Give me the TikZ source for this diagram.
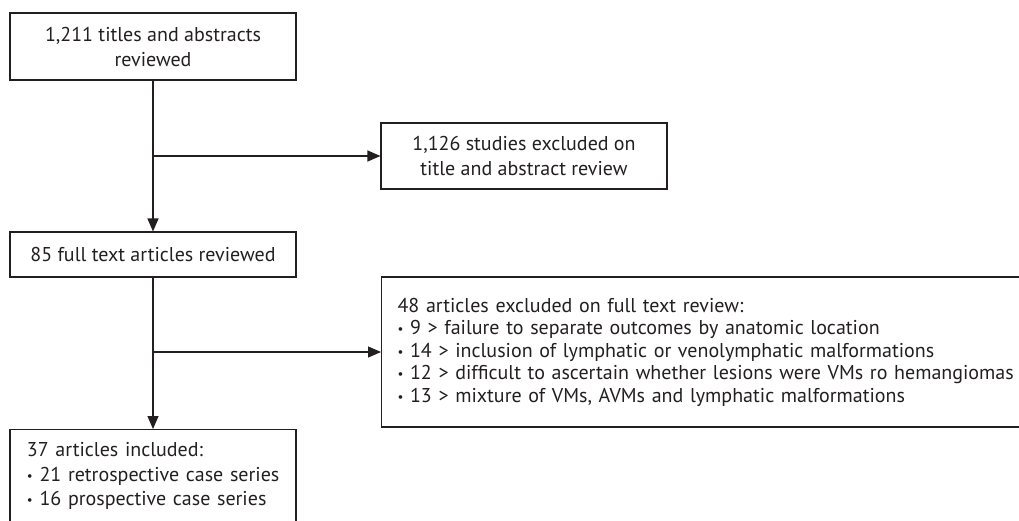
\documentclass[tikz,border=0pt]{standalone}
\usepackage{fontspec}
\setmainfont{PT Sans}
\usepackage{xcolor}
\usetikzlibrary{arrows.meta, positioning, calc}
\definecolor{ink}{RGB}{35,31,32}
\newcommand{\bul}{{\fontsize{13}{13}\selectfont\raisebox{1pt}{•}}\ }

\tikzset{
  box/.style={draw=ink, line width=1.1pt, text=ink, font=\fontsize{20}{25}\selectfont, inner sep=0pt},
  flow/.style={draw=ink, line width=1.1pt, -{Triangle[length=13pt,width=11pt]}}
}

\begin{document}
\begin{tikzpicture}[x=1pt, y=-1pt]
  \useasboundingbox (0,0) rectangle (1019,520);

  \node[box, minimum width=286pt, minimum height=67pt, align=center] (titles) at (153,46.5)
    {1,211 titles and abstracts\\reviewed};
  \node[box, minimum width=286pt, minimum height=66pt, align=center] (excl1) at (524,156)
    {1,126 studies excluded on\\title and abstract review};
  \node[box, minimum width=286pt, minimum height=45pt, align=center] (fulltext) at (153,254.5)
    {85 full text articles reviewed};
  \node[box, font=\fontsize{20}{22.5}\selectfont, minimum width=660pt, minimum height=150pt, text width=628pt, align=left, anchor=west] (excl2) at (381,352)
    {48 articles excluded on full text review:\\
     \bul 9 > failure to separate outcomes by anatomic location\\
     \bul 14 > inclusion of lymphatic or venolymphatic malformations\\
     \bul 12 > difficult to ascertain whether lesions were VMs ro hemangiomas\\
     \bul 13 > mixture of VMs, AVMs and lymphatic malformations\\[10pt]};
  \node[box, font=\fontsize{20}{24.5}\selectfont, minimum width=286pt, text width=252pt, inner xsep=17pt, inner ysep=13pt, align=left, anchor=north] (included) at (153,429)
    {37 articles included:\\
     \mbox{\bul 21 retrospective case series}\\
     \mbox{\bul 16 prospective case series}};

  \coordinate (split1) at (titles.south |- excl1.west);
  \coordinate (split2) at (fulltext.south |- excl2.west);

  \draw[flow] (titles.south) -- (fulltext.north);
  \draw[flow] (split1) -- (excl1.west);
  \draw[flow] (fulltext.south) -- (included.north);
  \draw[flow] (split2) -- (excl2.west);
\end{tikzpicture}
\end{document}
